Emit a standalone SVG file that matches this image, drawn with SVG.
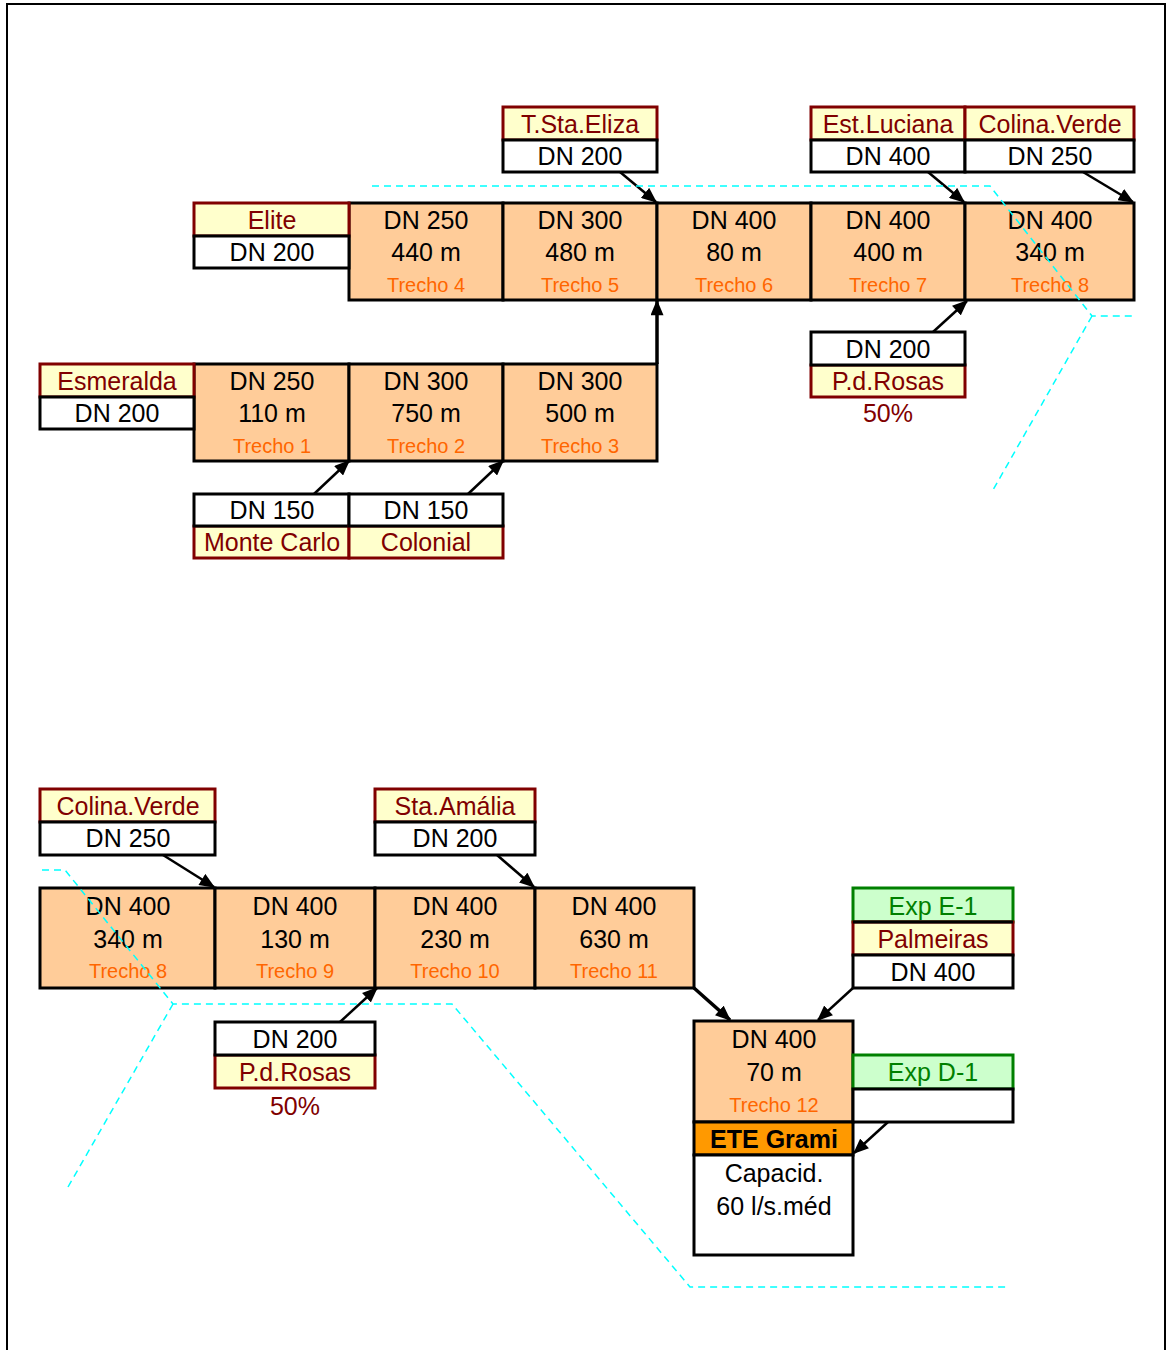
<svg xmlns="http://www.w3.org/2000/svg" width="1167" height="1350" viewBox="0 0 1167 1350">
<defs>
<style>
text{font-family:"Liberation Sans",Arial,sans-serif;text-anchor:middle;}
.t{font-size:25px;fill:#000;}
.n{font-size:25px;fill:#800000;}
.g{font-size:25px;fill:#008000;}
.tr{font-size:20px;fill:#FF6600;}
.b{font-size:25px;font-weight:bold;fill:#000;}
.seg{fill:#FFCC99;stroke:#000;stroke-width:3;}
.nm{fill:#FFFFCC;stroke:#800000;stroke-width:3;}
.dn{fill:#FFFFFF;stroke:#000;stroke-width:3;}
.ex{fill:#CCFFCC;stroke:#008000;stroke-width:3;}
.conn{stroke:#000;stroke-width:2.5;fill:none;marker-end:url(#ah);}
.thick{stroke-width:3.5;}
.cy{stroke:#00FFFF;stroke-width:1.5;fill:none;stroke-dasharray:7,5;}
</style>
<marker id="ah" viewBox="0 0 12 10" refX="11" refY="5" markerWidth="16" markerHeight="13" markerUnits="userSpaceOnUse" orient="auto">
<path d="M0,0 L12,5 L0,10 z" fill="#000"/>
</marker>
</defs>
<rect x="0" y="0" width="1167" height="1350" fill="#fff"/>
<path d="M7,1350 V4 H1165 V1350" fill="none" stroke="#000" stroke-width="2"/>

<!-- Top row trechos -->
<g id="trecho4"><rect class="seg" x="349" y="203" width="154" height="97"/><text class="t" x="426" y="229">DN 250</text><text class="t" x="426" y="261">440 m</text><text class="tr" x="426" y="292">Trecho 4</text></g>
<g id="trecho5"><rect class="seg" x="503" y="203" width="154" height="97"/><text class="t" x="580" y="229">DN 300</text><text class="t" x="580" y="261">480 m</text><text class="tr" x="580" y="292">Trecho 5</text></g>
<g id="trecho6"><rect class="seg" x="657" y="203" width="154" height="97"/><text class="t" x="734" y="229">DN 400</text><text class="t" x="734" y="261">80 m</text><text class="tr" x="734" y="292">Trecho 6</text></g>
<g id="trecho7"><rect class="seg" x="811" y="203" width="154" height="97"/><text class="t" x="888" y="229">DN 400</text><text class="t" x="888" y="261">400 m</text><text class="tr" x="888" y="292">Trecho 7</text></g>
<g id="trecho8a"><rect class="seg" x="965" y="203" width="169" height="97"/><text class="t" x="1050" y="229">DN 400</text><text class="t" x="1050" y="261">340 m</text><text class="tr" x="1050" y="292">Trecho 8</text></g>

<g id="tstaeliza"><rect class="nm" x="503" y="107" width="154" height="33"/><rect class="dn" x="503" y="140" width="154" height="32"/><text class="n" x="580" y="133">T.Sta.Eliza</text><text class="t" x="580" y="165">DN 200</text></g>
<g id="estluciana"><rect class="nm" x="811" y="107" width="154" height="33"/><rect class="dn" x="811" y="140" width="154" height="32"/><text class="n" x="888" y="133">Est.Luciana</text><text class="t" x="888" y="165">DN 400</text></g>
<g id="colinaverde1"><rect class="nm" x="965" y="107" width="169" height="33"/><rect class="dn" x="965" y="140" width="169" height="32"/><text class="n" x="1050" y="133">Colina.Verde</text><text class="t" x="1050" y="165">DN 250</text></g>
<g id="elite"><rect class="nm" x="194" y="203" width="155" height="33"/><rect class="dn" x="194" y="236" width="155" height="32"/><text class="n" x="272" y="229">Elite</text><text class="t" x="272" y="261">DN 200</text></g>
<g id="pdrosas1"><rect class="nm" x="811" y="365" width="154" height="32"/><rect class="dn" x="811" y="332" width="154" height="33"/><text class="t" x="888" y="358">DN 200</text><text class="n" x="888" y="390">P.d.Rosas</text><text class="n" x="888" y="422">50%</text></g>

<!-- Second row -->
<g id="trecho1"><rect class="seg" x="194" y="364" width="155" height="97"/><text class="t" x="272" y="390">DN 250</text><text class="t" x="272" y="422">110 m</text><text class="tr" x="272" y="453">Trecho 1</text></g>
<g id="trecho2"><rect class="seg" x="349" y="364" width="154" height="97"/><text class="t" x="426" y="390">DN 300</text><text class="t" x="426" y="422">750 m</text><text class="tr" x="426" y="453">Trecho 2</text></g>
<g id="trecho3"><rect class="seg" x="503" y="364" width="154" height="97"/><text class="t" x="580" y="390">DN 300</text><text class="t" x="580" y="422">500 m</text><text class="tr" x="580" y="453">Trecho 3</text></g>
<g id="esmeralda"><rect class="nm" x="40" y="364" width="154" height="33"/><rect class="dn" x="40" y="397" width="154" height="32"/><text class="n" x="117" y="390">Esmeralda</text><text class="t" x="117" y="422">DN 200</text></g>
<g id="montecarlo"><rect class="nm" x="194" y="526" width="155" height="32"/><rect class="dn" x="194" y="494" width="155" height="32"/><text class="t" x="272" y="519">DN 150</text><text class="n" x="272" y="551">Monte Carlo</text></g>
<g id="colonial"><rect class="nm" x="349" y="526" width="154" height="32"/><rect class="dn" x="349" y="494" width="154" height="32"/><text class="t" x="426" y="519">DN 150</text><text class="n" x="426" y="551">Colonial</text></g>

<!-- Bottom section -->
<g id="trecho8b"><rect class="seg" x="40" y="888" width="175" height="100"/><text class="t" x="128" y="915">DN 400</text><text class="t" x="128" y="948">340 m</text><text class="tr" x="128" y="978">Trecho 8</text></g>
<g id="trecho9"><rect class="seg" x="215" y="888" width="160" height="100"/><text class="t" x="295" y="915">DN 400</text><text class="t" x="295" y="948">130 m</text><text class="tr" x="295" y="978">Trecho 9</text></g>
<g id="trecho10"><rect class="seg" x="375" y="888" width="160" height="100"/><text class="t" x="455" y="915">DN 400</text><text class="t" x="455" y="948">230 m</text><text class="tr" x="455" y="978">Trecho 10</text></g>
<g id="trecho11"><rect class="seg" x="535" y="888" width="159" height="100"/><text class="t" x="614" y="915">DN 400</text><text class="t" x="614" y="948">630 m</text><text class="tr" x="614" y="978">Trecho 11</text></g>
<g id="colinaverde2"><rect class="nm" x="40" y="789" width="175" height="33"/><rect class="dn" x="40" y="822" width="175" height="33"/><text class="n" x="128" y="815">Colina.Verde</text><text class="t" x="128" y="847">DN 250</text></g>
<g id="staamalia"><rect class="nm" x="375" y="789" width="160" height="33"/><rect class="dn" x="375" y="822" width="160" height="33"/><text class="n" x="455" y="815">Sta.Amália</text><text class="t" x="455" y="847">DN 200</text></g>
<g id="pdrosas2"><rect class="nm" x="215" y="1055" width="160" height="33"/><rect class="dn" x="215" y="1022" width="160" height="33"/><text class="t" x="295" y="1048">DN 200</text><text class="n" x="295" y="1081">P.d.Rosas</text><text class="n" x="295" y="1115">50%</text></g>

<g id="trecho12"><rect class="seg" x="694" y="1021" width="159" height="101"/><text class="t" x="774" y="1048">DN 400</text><text class="t" x="774" y="1081">70 m</text><text class="tr" x="774" y="1112">Trecho 12</text></g>
<g id="etegrami"><rect x="694" y="1122" width="159" height="33" fill="#FF9900" stroke="#000" stroke-width="3"/><text class="b" x="774" y="1148">ETE Grami</text></g>
<g id="capacidade"><rect class="dn" x="694" y="1155" width="159" height="100"/><text class="t" x="774" y="1182">Capacid.</text><text class="t" x="774" y="1215">60 l/s.méd</text></g>
<g id="expe1"><rect class="ex" x="853" y="888" width="160" height="34"/><rect class="nm" x="853" y="922" width="160" height="33"/><rect class="dn" x="853" y="955" width="160" height="33"/><line x1="853" y1="922" x2="1013" y2="922" stroke="#000" stroke-width="3"/><text class="g" x="933" y="915">Exp E-1</text><text class="n" x="933" y="948">Palmeiras</text><text class="t" x="933" y="981">DN 400</text></g>
<g id="expd1"><rect class="ex" x="853" y="1055" width="160" height="34"/><rect class="dn" x="853" y="1089" width="160" height="33"/><text class="g" x="933" y="1081">Exp D-1</text></g>

<!-- connectors -->
<g id="connectors">
<line class="conn thick" x1="657" y1="364" x2="657" y2="301"/>
<line class="conn" x1="620" y1="172" x2="656" y2="202"/>
<line class="conn" x1="928" y1="172" x2="964" y2="202"/>
<line class="conn" x1="1083" y1="172" x2="1133" y2="202"/>
<line class="conn" x1="933" y1="332" x2="967" y2="301"/>
<line class="conn" x1="314" y1="494" x2="349" y2="461"/>
<line class="conn" x1="468" y1="494" x2="503" y2="461"/>
<line class="conn" x1="163" y1="855" x2="214" y2="887"/>
<line class="conn" x1="497" y1="855" x2="534" y2="887"/>
<line class="conn" x1="340" y1="1022" x2="377" y2="988"/>
<line class="conn thick" x1="694" y1="988" x2="730" y2="1020"/>
<line class="conn" x1="853" y1="988" x2="818" y2="1020"/>
<line class="conn" x1="888" y1="1122" x2="854" y2="1153"/>
</g>

<!-- boundary dashed lines -->
<g id="boundaries">
<path class="cy" d="M372,186 H990 L1092,316 H1132"/>
<path class="cy" d="M1092,316 L993,490"/>
<path class="cy" d="M42,870 H65 L173,1004 H452 L690,1287 H1007"/>
<path class="cy" d="M173,1004 L68,1187"/>
</g>
</svg>
